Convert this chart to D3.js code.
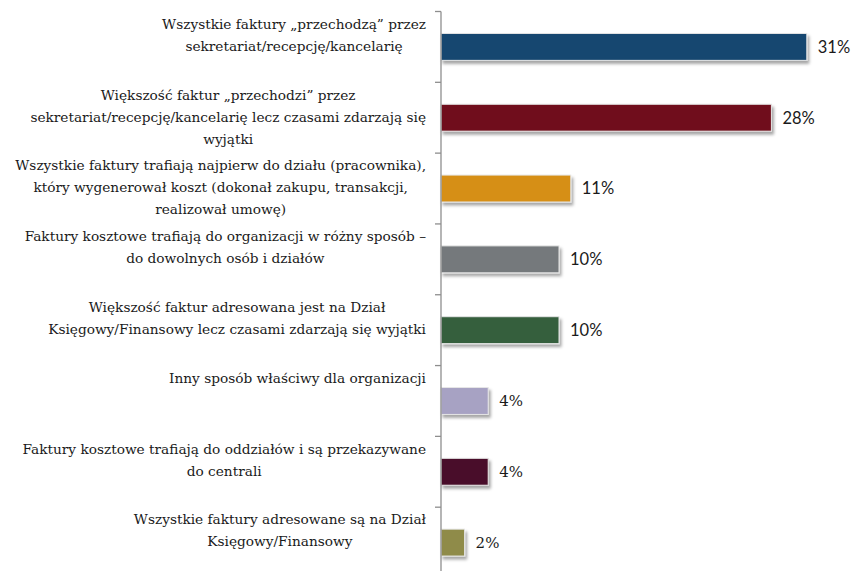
<!DOCTYPE html>
<html>
<head>
<meta charset="utf-8">
<script src="https://cdn.jsdelivr.net/npm/d3@7"></script>
<style>
  html, body { margin: 0; padding: 0; background: #fff; }
  svg { display: block; }
</style>
</head>
<body>
<svg id="chart" width="866" height="571"></svg>
<script>
// Category labels (line breaks as shown), shares in percent, bar colours
const categories = [
  "Wszystkie faktury „przechodzą” przez\nsekretariat/recepcję/kancelarię",
  "Większość faktur „przechodzi” przez\nsekretariat/recepcję/kancelarię lecz czasami zdarzają się\nwyjątki",
  "Wszystkie faktury trafiają najpierw do działu (pracownika),\nktóry wygenerował koszt (dokonał zakupu, transakcji,\nrealizował umowę)",
  "Faktury kosztowe trafiają do organizacji w różny sposób –\ndo dowolnych osób i działów",
  "Większość faktur adresowana jest na Dział\nKsięgowy/Finansowy lecz czasami zdarzają się wyjątki",
  "Inny sposób właściwy dla organizacji",
  "Faktury kosztowe trafiają do oddziałów i są przekazywane\ndo centrali",
  "Wszystkie faktury adresowane są na Dział\nKsięgowy/Finansowy"
];
const values = [31, 28, 11, 10, 10, 4, 4, 2];
const valueLabels = ["31%", "28%", "11%", "10%", "10%", "4%", "4%", "2%"];
const colors = ["#15466f", "#6f0e1b", "#d68f14", "#74797b", "#355e3d", "#a7a2c3", "#4a1029", "#8f8b4a"];

const svg = d3.select("#chart");
const axisX = 441;
const serif = "'DejaVu Serif', 'Liberation Serif', serif";

const x = d3.scaleLinear().domain([0, 35]).range([axisX, axisX + 413]);
const y = d3.scaleBand().domain(d3.range(categories.length))
  .range([11.5, 578]).paddingInner(0.62).paddingOuter(0.31);

// soft drop shadow under the bars
const defs = svg.append("defs");
const f = defs.append("filter").attr("id", "shadow")
  .attr("x", "-10%").attr("y", "-30%").attr("width", "130%").attr("height", "180%");
f.append("feDropShadow").attr("dx", 2).attr("dy", 3).attr("stdDeviation", 1.6)
  .attr("flood-color", "#000").attr("flood-opacity", 0.35);

const data = values.map((v, i) => ({ i, v, label: categories[i], text: valueLabels[i], color: colors[i] }));

// bars
svg.append("g").selectAll("rect").data(data).join("rect")
  .attr("x", x(0))
  .attr("y", d => y(d.i))
  .attr("width", d => x(d.v) - x(0))
  .attr("height", y.bandwidth())
  .attr("fill", d => d.color)
  .attr("stroke", "#e6e6e6")
  .attr("stroke-width", 1)
  .attr("filter", "url(#shadow)");

// vertical category axis with ticks between bands
const step = y.step();
const r0 = y.range()[0];
const axis = svg.append("g").attr("stroke", "#8e8e8e").attr("stroke-width", 1.3);
axis.append("line").attr("x1", axisX).attr("x2", axisX).attr("y1", r0).attr("y2", 571);
axis.selectAll(".tick").data(d3.range(categories.length + 1)).join("line")
  .attr("x1", axisX - 6).attr("x2", axisX)
  .attr("y1", i => r0 + i * step).attr("y2", i => r0 + i * step);

// value labels
svg.append("g").selectAll("text").data(data).join("text")
  .attr("x", d => x(d.v) + 11)
  .attr("y", d => y(d.i) + y.bandwidth() / 2)
  .attr("dy", "0.36em")
  .attr("font-family", d => d.v < 5 ? serif : "Lato, 'Open Sans', sans-serif")
  .attr("font-size", d => d.v < 5 ? 15 : 16.5)
  .attr("fill", "#1a1a1a")
  .text(d => d.text);

// category labels: centred lines, block right-aligned against the axis
const labelRight = 426;
const lg = svg.append("g")
  .attr("font-family", serif)
  .attr("font-size", 13.7)
  .attr("fill", "#1a1a1a");

data.forEach(d => {
  const lines = d.label.split("\n");
  const cy = y(d.i) + y.bandwidth() / 2;
  const t = lg.append("text").attr("text-anchor", "middle");
  const spans = lines.map((ln, k) => t.append("tspan")
    .attr("y", cy - 23 + k * 22).attr("dy", "0.35em").text(ln));
  const maxW = d3.max(spans, s => s.node().getComputedTextLength());
  spans.forEach(s => s.attr("x", labelRight - maxW / 2));
});
</script>
</body>
</html>
